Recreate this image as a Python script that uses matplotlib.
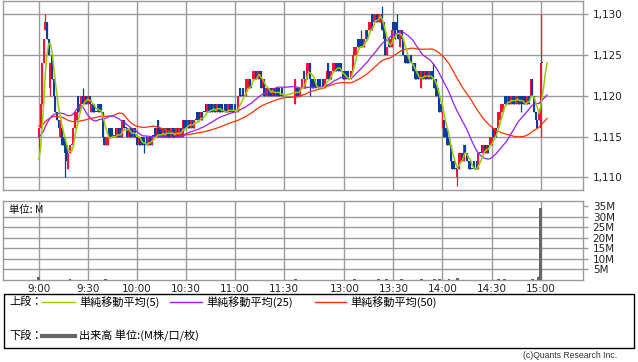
import matplotlib
matplotlib.use("Agg")
import matplotlib.pyplot as plt
from matplotlib.lines import Line2D
from matplotlib.patches import Rectangle
from matplotlib.ticker import FuncFormatter
import pandas as pd

# 1分足 前場 9:00-11:30 (呼値 1円)
am_open = [1115, 1116, 1119, 1124, 1128, 1129, 1127, 1121, 1125, 1122,
           1120, 1118, 1117, 1115, 1116, 1115, 1115, 1114, 1111, 1113,
           1114, 1114, 1116, 1117, 1120, 1118, 1119, 1120, 1119, 1120,
           1119, 1120, 1118, 1119, 1119, 1118, 1118, 1119, 1119, 1118,
           1115, 1114, 1114, 1116, 1116, 1116, 1115, 1116, 1115, 1116,
           1116, 1115, 1117, 1116, 1116, 1115, 1116, 1116, 1115, 1116,
           1115, 1114, 1115, 1115, 1115, 1114, 1115, 1114, 1115, 1114,
           1115, 1116, 1115, 1117, 1116, 1116, 1115, 1116, 1115, 1116,
           1116, 1115, 1116, 1116, 1115, 1116, 1115, 1116, 1115, 1117,
           1117, 1116, 1117, 1116, 1117, 1116, 1117, 1118, 1118, 1117,
           1118, 1118, 1119, 1118, 1119, 1119, 1119, 1118, 1119, 1118,
           1119, 1119, 1119, 1118, 1119, 1119, 1118, 1119, 1119, 1118,
           1119, 1118, 1118, 1121, 1120, 1121, 1120, 1120, 1121, 1122,
           1121, 1122, 1122, 1123, 1122, 1123, 1123, 1121, 1122, 1120,
           1120, 1121, 1121, 1120, 1121, 1120, 1121, 1121, 1120, 1121,
           1120]
am_close = [1116, 1119, 1124, 1127, 1129, 1127, 1125, 1124, 1122, 1120,
            1118, 1117, 1116, 1117, 1114, 1114, 1113, 1112, 1113, 1114,
            1114, 1116, 1118, 1118, 1118, 1119, 1120, 1119, 1120, 1119,
            1120, 1119, 1119, 1118, 1118, 1118, 1119, 1118, 1118, 1115,
            1114, 1115, 1115, 1115, 1115, 1115, 1115, 1115, 1116, 1115,
            1115, 1117, 1116, 1116, 1115, 1116, 1115, 1115, 1116, 1115,
            1114, 1115, 1114, 1114, 1114, 1114, 1114, 1115, 1114, 1115,
            1115, 1115, 1116, 1115, 1115, 1115, 1116, 1115, 1116, 1115,
            1115, 1116, 1115, 1115, 1116, 1115, 1116, 1115, 1117, 1116,
            1116, 1117, 1116, 1117, 1116, 1117, 1117, 1117, 1117, 1118,
            1117, 1118, 1118, 1119, 1118, 1118, 1118, 1119, 1118, 1119,
            1118, 1118, 1118, 1118, 1118, 1118, 1119, 1118, 1118, 1118,
            1118, 1118, 1120, 1120, 1120, 1120, 1120, 1122, 1122, 1121,
            1121, 1123, 1123, 1122, 1123, 1122, 1121, 1122, 1120, 1121,
            1121, 1120, 1120, 1121, 1120, 1121, 1120, 1120, 1120, 1120,
            1120]
am_wick_bar = [0, 4, 7, 16, 27, 64, 136]
am_wick_low = [1113, 1128, 1120, 1110, 1119, 1113, 1121]
am_wick_high = [1116, 1130, 1124, 1115, 1121, 1115, 1123]

# 後場 12:30-15:00
pm_open = [1119, 1121, 1121, 1120, 1121, 1123, 1121, 1122, 1123, 1124,
           1122, 1122, 1122, 1121, 1122, 1122, 1121, 1122, 1121, 1122,
           1124, 1123, 1122, 1123, 1123, 1124, 1124, 1124, 1124, 1123,
           1123, 1123, 1123, 1122, 1122, 1123, 1125, 1125, 1127, 1127,
           1127, 1127, 1126, 1127, 1128, 1128, 1128, 1130, 1129, 1129,
           1130, 1129, 1129, 1130, 1129, 1128, 1125, 1127, 1126, 1126,
           1129, 1129, 1129, 1128, 1126, 1128, 1127, 1125, 1125, 1125,
           1124, 1125, 1124, 1124, 1123, 1123, 1123, 1121, 1123, 1122,
           1123, 1123, 1122, 1123, 1123, 1122, 1122, 1121, 1120, 1119,
           1116, 1117, 1116, 1116, 1115, 1114, 1112, 1112, 1111, 1110,
           1111, 1112, 1113, 1112, 1114, 1113, 1112, 1112, 1111, 1112,
           1111, 1112, 1111, 1113, 1114, 1113, 1114, 1113, 1114, 1114,
           1114, 1116, 1115, 1116, 1116, 1117, 1118, 1118, 1120, 1120,
           1119, 1120, 1119, 1120, 1120, 1119, 1119, 1120, 1120, 1120,
           1120, 1120, 1119, 1120, 1120, 1122, 1120, 1118, 1117, 1117,
           1116, 1124]
pm_close = [1122, 1120, 1120, 1121, 1122, 1122, 1122, 1124, 1124, 1122,
            1121, 1121, 1121, 1121, 1121, 1121, 1121, 1121, 1122, 1123,
            1122, 1122, 1123, 1124, 1124, 1123, 1123, 1123, 1123, 1122,
            1122, 1122, 1122, 1122, 1123, 1125, 1126, 1126, 1126, 1126,
            1126, 1126, 1127, 1128, 1127, 1129, 1129, 1128, 1130, 1130,
            1129, 1130, 1130, 1128, 1127, 1125, 1126, 1126, 1127, 1128,
            1128, 1127, 1128, 1127, 1128, 1127, 1125, 1124, 1124, 1124,
            1124, 1124, 1123, 1122, 1122, 1122, 1122, 1123, 1122, 1123,
            1122, 1122, 1123, 1122, 1122, 1121, 1120, 1120, 1118, 1118,
            1118, 1115, 1115, 1114, 1114, 1112, 1111, 1111, 1111, 1111,
            1113, 1113, 1112, 1114, 1113, 1112, 1111, 1111, 1111, 1111,
            1111, 1111, 1113, 1113, 1113, 1114, 1113, 1114, 1113, 1115,
            1115, 1115, 1116, 1115, 1118, 1118, 1119, 1119, 1119, 1119,
            1120, 1119, 1120, 1119, 1119, 1120, 1120, 1119, 1119, 1119,
            1119, 1119, 1120, 1119, 1122, 1120, 1118, 1117, 1116, 1118,
            1124, 1124]
pm_wick_bar = [9, 40, 53, 62, 84, 99, 138, 150]
pm_wick_low = [1120, 1126, 1128, 1128, 1122, 1109, 1118, 1115]
pm_wick_high = [1124, 1128, 1131, 1130, 1124, 1111, 1120, 1130]
# 大引け後も移動平均だけ延びる分
after_close = [1124, 1124, 1124]

# 前日終盤の終値 (移動平均の計算用)
prev_close = [1118, 1118, 1117, 1118, 1118, 1118, 1117, 1117, 1117, 1118,
              1118, 1117, 1117, 1117, 1118, 1118, 1118, 1117, 1117, 1117,
              1118, 1118, 1117, 1117, 1118, 1117, 1117, 1118, 1117, 1117,
              1116, 1117, 1116, 1116, 1116, 1116, 1115, 1116, 1115, 1115,
              1115, 1115, 1114, 1114, 1113, 1112, 1111, 1111, 1111]

# 出来高 (M)
vol_time = ["9:00", "9:19", "9:41", "12:30", "13:06", "13:21", "13:26", "13:35", "13:47",
            "13:55", "13:58", "14:04", "14:09", "14:34", "14:38", "14:55", "14:59", "15:00"]
vol_m = [1.6, 0.3, 0.4, 0.5, 0.3, 0.3, 0.3, 0.3, 0.3, 0.3, 0.3, 0.4, 1.0, 0.3, 0.3, 0.3, 1.5, 34.5]

tick_labels = ["9:00", "9:30", "10:00", "10:30", "11:00", "11:30",
               "13:00", "13:30", "14:00", "14:30", "15:00"]
price_ticks = [1110, 1115, 1120, 1125, 1130]
vol_ticks = [5, 10, 15, 20, 25, 30, 35]

RED = "#f0143c"
BLUE = "#0a3c9c"
GRID = "#9a9a9a"
JP = ["Noto Sans CJK JP", "DejaVu Sans"]


def xpos(t):
    # 昼休みを詰めた横軸 (12:30 は 11:30 の 7 本あと)
    h, m = map(int, t.split(":"))
    mins = h * 60 + m
    if mins <= 11 * 60 + 30:
        return mins - 9 * 60
    return mins - (12 * 60 + 30) + 157


def hilo(opens, closes, wbar, wlo, whi):
    highs = [max(o, c) for o, c in zip(opens, closes)]
    lows = [min(o, c) for o, c in zip(opens, closes)]
    for i, lo, hi in zip(wbar, wlo, whi):
        highs[i] = max(highs[i], hi)
        lows[i] = min(lows[i], lo)
    return highs, lows


am_x = list(range(len(am_close)))
pm_x = [xpos("12:30") + i for i in range(len(pm_close))]
am_high, am_low = hilo(am_open, am_close, am_wick_bar, am_wick_low, am_wick_high)
pm_high, pm_low = hilo(pm_open, pm_close, pm_wick_bar, pm_wick_low, pm_wick_high)

xs = am_x + pm_x
opens = am_open + pm_open
closes = am_close + pm_close
highs = am_high + pm_high
lows = am_low + pm_low

ma_x = xs + [pm_x[-1] + i + 1 for i in range(len(after_close))]
allc = pd.Series(prev_close + closes + after_close, dtype=float)
n0 = len(prev_close)
ma5 = allc.rolling(5, min_periods=1).mean()[n0:]
ma25 = allc.rolling(25, min_periods=1).mean()[n0:]
ma50 = allc.rolling(50, min_periods=1).mean()[n0:]

fig = plt.figure(figsize=(6.38, 3.62), dpi=100)
W, H = 638.0, 362.0
ax1 = fig.add_axes([3 / W, 1 - 190 / H, 580 / W, 189 / H])
ax2 = fig.add_axes([3 / W, 1 - 280 / H, 580 / W, 79 / H])

tick_x = [xpos(t) for t in tick_labels]

# 上段: ローソク足
cols = [RED if c > o else BLUE for o, c in zip(opens, closes)]
ax1.vlines(xs, lows, highs, colors=cols, linewidth=0.9, zorder=3)
bottoms = [min(o, c) for o, c in zip(opens, closes)]
heights = [max(abs(c - o), 0.13) for o, c in zip(opens, closes)]
ax1.bar(xs, heights, bottom=bottoms, width=1.2, color=cols, linewidth=0, zorder=3)

ax1.plot(ma_x, ma50, color="#ff3300", lw=0.9, zorder=4)
ax1.plot(ma_x, ma25, color="#9b1ef0", lw=0.9, zorder=4)
ax1.plot(ma_x, ma5, color="#99cc00", lw=1.1, zorder=5)

ax1.set_xlim(-22, 333)
ax1.set_ylim(1108.45, 1131.6)
ax1.set_xticks(tick_x)
ax1.set_xticklabels([])
ax1.set_yticks(price_ticks)
ax1.yaxis.set_major_formatter(FuncFormatter(lambda v, p: f"{int(v):,}"))
ax1.yaxis.tick_right()
ax1.grid(True, color=GRID, lw=1)
ax1.set_axisbelow(True)
ax1.tick_params(axis="x", length=0)
ax1.tick_params(axis="y", length=3.5, width=1, color=GRID, pad=3.5,
                labelsize=7.5, labelcolor="#222222")

# 下段: 出来高
ax2.bar([xpos(t) for t in vol_time], vol_m, width=1.8, color="#666666", linewidth=0, zorder=3)
ax2.set_xlim(-22, 333)
ax2.set_ylim(0, 37.6)
ax2.set_xticks(tick_x)
ax2.set_xticklabels(tick_labels)
ax2.set_yticks(vol_ticks)
ax2.set_yticklabels([f"{v}M" for v in vol_ticks])
ax2.yaxis.tick_right()
ax2.grid(True, axis="x", color=GRID, lw=1)
for v in vol_ticks[:-1]:
    ax2.axhline(v, color=GRID, lw=1, zorder=1)
ax2.set_axisbelow(True)
ax2.tick_params(axis="x", length=0, pad=3, labelsize=7.5, labelcolor="#222222")
ax2.tick_params(axis="y", length=3.5, width=1, color=GRID, pad=3.5,
                labelsize=7.5, labelcolor="#222222")
ax2.text(0.01, 0.95, "単位: M", transform=ax2.transAxes, ha="left", va="top",
         fontsize=7.5, family=JP, color="#111111", zorder=6)

for ax in (ax1, ax2):
    for s in ax.spines.values():
        s.set_color(GRID)
        s.set_linewidth(1)

# 凡例 (ピクセル座標)
lg = fig.add_axes([0, 0, 1, 1], facecolor="none")
lg.set_xlim(0, W)
lg.set_ylim(H, 0)
lg.axis("off")
lg.add_patch(Rectangle((3.5, 293.5), 630, 54, fill=False, edgecolor="black", lw=1))
lg.text(9, 302, "上段：", fontsize=8, family=JP, va="center")
lg.add_line(Line2D([42, 75], [302, 302], color="#99cc00", lw=1))
lg.text(79, 302, "単純移動平均(5)", fontsize=8, family=JP, va="center")
lg.add_line(Line2D([170, 202], [302, 302], color="#9b1ef0", lw=1))
lg.text(206, 302, "単純移動平均(25)", fontsize=8, family=JP, va="center")
lg.add_line(Line2D([315, 346], [302, 302], color="#ff3300", lw=1))
lg.text(350, 302, "単純移動平均(50)", fontsize=8, family=JP, va="center")
lg.text(9, 336, "下段：", fontsize=8, family=JP, va="center")
lg.add_line(Line2D([42, 75], [336, 336], color="#666666", lw=3))
lg.text(79, 336, "出来高 単位:(M株/口/枚)", fontsize=8, family=JP, va="center")
lg.text(617, 355, "(c)Quants Research Inc.", fontsize=6.2, ha="right", va="center",
        color="#333333", family="Liberation Sans")

fig.savefig("out.png", dpi=100)
